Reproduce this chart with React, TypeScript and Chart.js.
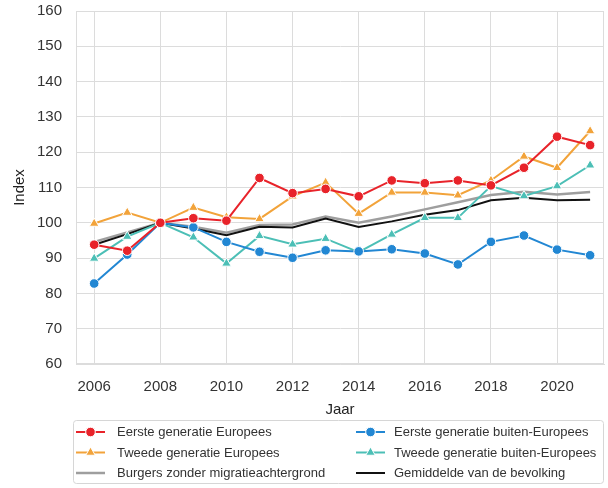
import React, { useEffect, useRef } from "react";
import { Chart, registerables } from "chart.js";

Chart.register(...registerables);

const years = [2006, 2007, 2008, 2009, 2010, 2011, 2012, 2013, 2014, 2015, 2016, 2017, 2018, 2019, 2020, 2021];

const eersteEuropees = [93.8, 92.1, 100, 101.3, 100.6, 112.7, 108.4, 109.6, 107.5, 112.0, 111.2, 112.0, 110.6, 115.6, 124.4, 122.0];
const tweedeEuropees = [99.8, 102.9, 100, 104.3, 101.6, 101.1, 107.5, 111.4, 102.6, 108.6, 108.6, 107.8, 112.0, 118.8, 115.6, 126.0];
const burgersZonder = [94.6, 97.3, 100, 98.9, 97.2, 99.4, 99.5, 101.8, 100.0, 101.8, 103.8, 105.8, 107.9, 108.8, 108.0, 108.7];
const eersteBuiten = [82.8, 91.0, 100, 98.7, 94.6, 91.8, 90.1, 92.2, 91.9, 92.5, 91.3, 88.2, 94.6, 96.4, 92.4, 90.8];
const tweedeBuiten = [89.9, 96.1, 100, 95.9, 88.5, 96.3, 93.9, 95.5, 91.7, 96.7, 101.4, 101.4, 110.4, 107.6, 110.4, 116.3];
const gemiddelde = [93.8, 96.8, 100, 98.4, 96.5, 98.9, 98.7, 101.2, 98.8, 100.4, 102.3, 103.6, 106.4, 107.1, 106.4, 106.5];

const seriesNames = [
  "Eerste generatie Europees",
  "Tweede generatie Europees",
  "Burgers zonder migratieachtergrond",
  "Eerste generatie buiten-Europees",
  "Tweede generatie buiten-Europees",
  "Gemiddelde van de bevolking",
];

const yTicks = [60, 70, 80, 90, 100, 110, 120, 130, 140, 150, 160];

const FONT = "'Liberation Sans', Arial, sans-serif";
const GRID = "#dcdcdc";

const toPoints = (vals: number[]) => vals.map((v, i) => ({ x: years[i], y: v }));

const framePlugin = {
  id: "frame",
  beforeDatasetsDraw(chart: any) {
    const { ctx, chartArea } = chart;
    ctx.save();
    ctx.strokeStyle = GRID;
    ctx.lineWidth = 1;
    ctx.strokeRect(
      Math.round(chartArea.left) + 0.5,
      Math.round(chartArea.top) + 0.5,
      Math.round(chartArea.right - chartArea.left) - 1,
      Math.round(chartArea.bottom - chartArea.top) - 1
    );
    ctx.restore();
  },
};

function drawMarker(ctx: CanvasRenderingContext2D, style: string, x: number, y: number, r: number, color: string) {
  if (style === "none") return;
  ctx.beginPath();
  if (style === "circle") {
    ctx.arc(x, y, r, 0, Math.PI * 2);
  } else if (style === "triangle") {
    const a = (2 * Math.PI) / 3;
    for (let k = 0; k < 3; k++) {
      const ang = k * a;
      const px = x + Math.sin(ang) * r;
      const py = y - Math.cos(ang) * r;
      if (k === 0) ctx.moveTo(px, py);
      else ctx.lineTo(px, py);
    }
    ctx.closePath();
  }
  ctx.fillStyle = color;
  ctx.fill();
  ctx.strokeStyle = "#ffffff";
  ctx.lineWidth = 1;
  ctx.stroke();
}

const boxLegendPlugin = {
  id: "boxLegend",
  afterDraw(chart: any) {
    const ctx: CanvasRenderingContext2D = chart.ctx;
    const ds = chart.data.datasets;
    const bx = 73.5, by = 420.5, bw = 530, bh = 63, rad = 3;
    ctx.save();
    ctx.beginPath();
    ctx.moveTo(bx + rad, by);
    ctx.lineTo(bx + bw - rad, by);
    ctx.quadraticCurveTo(bx + bw, by, bx + bw, by + rad);
    ctx.lineTo(bx + bw, by + bh - rad);
    ctx.quadraticCurveTo(bx + bw, by + bh, bx + bw - rad, by + bh);
    ctx.lineTo(bx + rad, by + bh);
    ctx.quadraticCurveTo(bx, by + bh, bx, by + bh - rad);
    ctx.lineTo(bx, by + rad);
    ctx.quadraticCurveTo(bx, by, bx + rad, by);
    ctx.closePath();
    ctx.fillStyle = "rgba(255,255,255,0.8)";
    ctx.fill();
    ctx.strokeStyle = "#d6d6d6";
    ctx.lineWidth = 1;
    ctx.stroke();

    const cols = [
      { x0: 76, x1: 105, tx: 117 },
      { x0: 356, x1: 385, tx: 394 },
    ];
    const rows = [432, 452.5, 473];
    ctx.font = `13px ${FONT}`;
    ctx.textBaseline = "middle";
    ctx.textAlign = "left";
    ds.forEach((d: any, i: number) => {
      const c = cols[Math.floor(i / 3)];
      const y = rows[i % 3];
      ctx.beginPath();
      ctx.moveTo(c.x0, y);
      ctx.lineTo(c.x1, y);
      ctx.strokeStyle = d.borderColor;
      ctx.lineWidth = d.borderWidth;
      ctx.stroke();
      drawMarker(ctx, d.pointRadius > 0 ? d.pointStyle : "none", (c.x0 + c.x1) / 2, y, d.pointRadius, d.borderColor);
      ctx.fillStyle = "#333333";
      ctx.fillText(d.label, c.tx, y + 0.5);
    });
    ctx.restore();
  },
};

export default function App() {
  const canvasRef = useRef<HTMLCanvasElement | null>(null);

  useEffect(() => {
    if (!canvasRef.current) return;
    Chart.defaults.font.family = FONT;
    const mk = (i: number, vals: number[], color: string, style: string, radius: number, order: number, width = 2) => ({
      label: seriesNames[i],
      data: toPoints(vals),
      borderColor: color,
      backgroundColor: color,
      borderWidth: width,
      pointStyle: style,
      pointRadius: radius,
      pointBorderColor: "#ffffff",
      pointBorderWidth: 1,
      pointBackgroundColor: color,
      pointHoverRadius: radius,
      tension: 0,
      order,
    });
    const chart = new Chart(canvasRef.current, {
      type: "line",
      data: {
        datasets: [
          mk(0, eersteEuropees, "#e8232a", "circle", 4.8, 1),
          mk(1, tweedeEuropees, "#f2a33a", "triangle", 5.5, 1),
          mk(2, burgersZonder, "#9e9e9e", "circle", 0, 3, 2.5),
          mk(3, eersteBuiten, "#2287d3", "circle", 4.8, 1),
          mk(4, tweedeBuiten, "#4cbfb6", "triangle", 5.5, 1),
          mk(5, gemiddelde, "#111111", "circle", 0, 2, 2),
        ] as any,
      },
      options: {
        animation: false,
        responsive: false,
        maintainAspectRatio: false,
        layout: { autoPadding: false, padding: { top: 11, right: 4, left: 0, bottom: 68 } },
        plugins: {
          legend: { display: false },
          tooltip: { enabled: false },
        },
        scales: {
          x: {
            type: "linear",
            min: 2005.45,
            max: 2021.42,
            ticks: {
              stepSize: 2,
              includeBounds: false,
              callback: (v: any) => String(v),
              padding: 0,
              color: "#333333",
              font: { size: 15, family: FONT },
              maxRotation: 0,
              autoSkip: false,
            },
            grid: { color: GRID, lineWidth: 1, drawTicks: true, tickLength: 14, tickColor: "rgba(0,0,0,0)" },
            border: { display: true, color: GRID },
            title: {
              display: true,
              text: "Jaar",
              color: "#222222",
              font: { size: 15, family: FONT },
              padding: { top: 0, bottom: 1 },
            },
            afterFit: (s: any) => {
              s.height = 56;
            },
          },
          y: {
            type: "linear",
            min: 60,
            max: 160,
            afterBuildTicks: (s: any) => {
              s.ticks = yTicks.map((v) => ({ value: v }));
            },
            ticks: {
              padding: 0,
              color: "#333333",
              font: { size: 15, family: FONT },
            },
            grid: { color: GRID, lineWidth: 1, drawTicks: true, tickLength: 14, tickColor: "rgba(0,0,0,0)" },
            border: { display: true, color: GRID },
            title: {
              display: true,
              text: "Index",
              color: "#222222",
              font: { size: 15, family: FONT },
              padding: { top: 11, bottom: 0 },
            },
            afterFit: (s: any) => {
              s.width = 76;
            },
          },
        },
      } as any,
      plugins: [framePlugin, boxLegendPlugin],
    });
    return () => chart.destroy();
  }, []);

  return (
    <div style={{ position: "fixed", left: 0, top: 0, width: 608, height: 488, background: "#ffffff" }}>
      <canvas ref={canvasRef} width={608} height={488} style={{ display: "block" }} />
    </div>
  );
}
